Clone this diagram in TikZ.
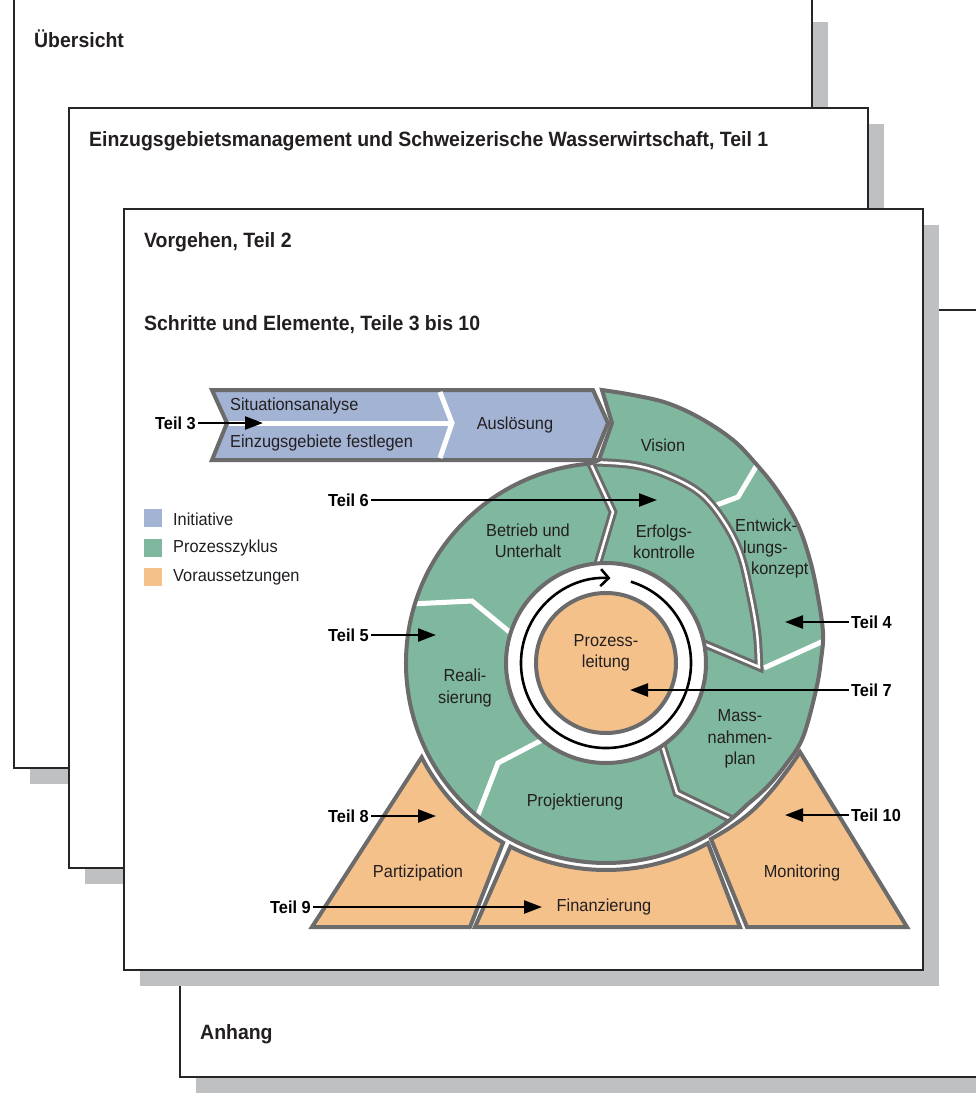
\documentclass[tikz,border=0pt]{standalone}
\usepackage{fontspec}
\setmainfont{Liberation Sans}[FakeStretch = 0.94]
\usetikzlibrary{arrows.meta}
\definecolor{initblue}{HTML}{A2B3D4}
\definecolor{cyclegreen}{HTML}{80B89F}
\definecolor{prereqorange}{HTML}{F5C18B}
\definecolor{rimgray}{HTML}{6B6B6B}
\definecolor{shadowgray}{HTML}{BFC0C2}
\definecolor{ink}{HTML}{231F20}
\tikzstyle{sheet} = [draw = black!85, line width = 1.4pt, fill = white]
\tikzstyle{shade} = [fill = shadowgray, draw = none]
\tikzstyle{rim} = [draw = rimgray, line width = 4pt, line join = miter]
\tikzstyle{gap} = [draw = white, line width = 5pt]
\tikzstyle{seam} = [draw = rimgray, line width = 3pt, double = white, double distance = 2.5pt, line join = miter]
\tikzstyle{pfeil} = [-{Triangle[length = 18pt, width = 13pt]}, line width = 2.4pt, draw = black]
\tikzstyle{lbl} = [draw = none, inner sep = 0, align = center, text = ink, font = \fontsize{17.4}{21.5}\selectfont]
\tikzstyle{teil} = [draw = none, inner sep = 2, text = black, font = \fontsize{17.4}{20}\selectfont\bfseries]
\tikzstyle{head} = [anchor = base west, inner sep = 0, text = ink, font = \fontsize{20.7}{24}\selectfont\bfseries]
\newcommand{\spiralpath}{plot [smooth, tension = 0.6] coordinates {(602,390) (633,395) (667,403) (700,418) (733,440) (757,465) (777,490) (797,523) (810,560) (818,597) (823,633) (821,660) (816,690) (803,737) (787,763) (767,787) (747.4,804.4)} arc [start angle = 45, end angle = 265.4, radius = 200] -- (599,460) -- (612,423) -- cycle}

\begin{document}
\begin{tikzpicture}[x = 1pt, y = -1pt]
\useasboundingbox (0,0) rectangle (976,1104);
\clip (0,0) rectangle (976,1104);

% stacked sheets
\fill [shade] (30,22) rectangle (828,784);
\draw [sheet] (14,-20) rectangle (812,768);
\node [head] (S1) at (34,47.5) {Übersicht};
\fill [shade] (85,124) rectangle (884,884);
\draw [sheet] (69,108) rectangle (868,868);
\node [head] (S2) at (89,146) {Einzugsgebietsmanagement und Schweizerische Wasserwirtschaft, Teil 1};
\fill [shade] (196,326) rectangle (1010,1093);
\draw [sheet] (180,310) rectangle (1000,1077);
\node [head] (S4) at (200,1039) {Anhang};
\fill [shade] (140,225) rectangle (939,986);
\draw [sheet] (124,209) rectangle (923,970);
\node [head] (S3) at (144,247) {Vorgehen, Teil 2};
\node [head] (S3b) at (144,330) {Schritte und Elemente, Teile 3 bis 10};

% process cycle
\coordinate (C) at (606,663);
\fill [cyclegreen] \spiralpath;
\draw [gap] (714,506) -- (738,497) -- (760,460);
\draw [gap] (764,668) -- (828,639);
\draw [gap] (410,604) -- (472,601) -- (512,634);
\draw [gap] (476,820) -- (498,763) -- (542,740);
\draw [seam] (597,566) -- (613,512) -- plot [smooth, tension = 0.6] coordinates {(590,462) (633,465) (667,475) (700,493) (723,520) (740,553) (750,593) (757,633) (759,667)} -- (700,642);
\draw [seam] (660,738) -- (677,793) -- (731,819);
\draw [rim] \spiralpath;
\draw [rim, fill = white] (C) circle [radius = 100];
\draw [line width = 2.6pt, -{Straight Barb[length = 8pt, width = 17pt]}] (C) ++(287:85) arc [start angle = 287, end angle = 633, radius = 85];
\draw [rim, fill = prereqorange] (C) circle [radius = 70];

% initiative
\draw [rim, fill = initblue] (212,390) -- (593,390) -- (608,423) -- (593,460) -- (212,460) -- (227,423) -- cycle;
\draw [gap] (229,423) -- (452,423);
\draw [gap] (440,392) -- (452,423) -- (440,458);

% prerequisites
\draw [rim, fill = prereqorange] (312,927) -- (421.7,757.3) arc [start angle = 152.9, end angle = 119.8, radius = 207] -- (470,927) -- cycle;
\draw [rim, fill = prereqorange] (475,927) -- (510.4,846.6) arc [start angle = 117.5, end angle = 60.5, radius = 207] -- (740,927) -- cycle;
\draw [rim, fill = prereqorange] (747,927) -- plot [smooth, tension = 0.6] coordinates {(711,839) (731,827) (752,811) (772,790) (789,768) (800,752)} -- (907,927) -- cycle;

% labels
\node [lbl, anchor = west] (SA) at (230,406) {Situationsanalyse};
\node [lbl, anchor = west] (EF) at (230,443) {Einzugsgebiete festlegen};
\node [lbl] (AU) at (515,425) {Auslösung};
\node [lbl] (VI) at (663,445) {Vision};
\node [lbl, align = left, anchor = north west] (EK) at (735,519) {Entwick-\\\hspace*{8pt}lungs-\\\hspace*{16pt}konzept};
\node [lbl] (EO) at (664,542) {Erfolgs-\\kontrolle};
\node [lbl] (BU) at (528,541) {Betrieb und\\Unterhalt};
\node [lbl] (RE) at (465,688) {Reali-\\sierung};
\node [lbl] (PL) at (606,653) {Prozess-\\leitung};
\node [lbl] (MP) at (740,739) {Mass-\\nahmen-\\plan};
\node [lbl] (PJ) at (575,802) {Projektierung};
\node [lbl] (PA) at (418,873) {Partizipation};
\node [lbl] (FI) at (604,907) {Finanzierung};
\node [lbl] (MO) at (802,873) {Monitoring};

% legend
\fill [initblue] (144,509) rectangle (162,527);
\fill [cyclegreen] (144,539) rectangle (162,557);
\fill [prereqorange] (144,568) rectangle (162,586);
\node [lbl, anchor = west] (LI) at (173,519) {Initiative};
\node [lbl, anchor = west] (LP) at (173,548) {Prozesszyklus};
\node [lbl, anchor = west] (LV) at (173,577) {Voraussetzungen};

% references to the parts
\node [teil, anchor = east] (T3) at (198,423) {Teil 3};
\node [teil, anchor = east] (T6) at (371,500) {Teil 6};
\node [teil, anchor = east] (T5) at (371,635) {Teil 5};
\node [teil, anchor = east] (T8) at (371,816) {Teil 8};
\node [teil, anchor = east] (T9) at (313,907) {Teil 9};
\node [teil, anchor = west] (T4) at (849,622) {Teil 4};
\node [teil, anchor = west] (T7) at (849,690) {Teil 7};
\node [teil, anchor = west] (T10) at (849,815) {Teil 10};
\coordinate (t3) at (263,423);
\coordinate (t6) at (657,500);
\coordinate (t5) at (436,635);
\coordinate (t8) at (436,816);
\coordinate (t9) at (542,907);
\coordinate (t4) at (785,622);
\coordinate (t7) at (630,690);
\coordinate (t10) at (785,815);
\draw [pfeil] (T3) -- (t3);
\draw [pfeil] (T6) -- (t6);
\draw [pfeil] (T5) -- (t5);
\draw [pfeil] (T8) -- (t8);
\draw [pfeil] (T9) -- (t9);
\draw [pfeil] (T4) -- (t4);
\draw [pfeil] (T7) -- (t7);
\draw [pfeil] (T10) -- (t10);
\end{tikzpicture}
\end{document}
